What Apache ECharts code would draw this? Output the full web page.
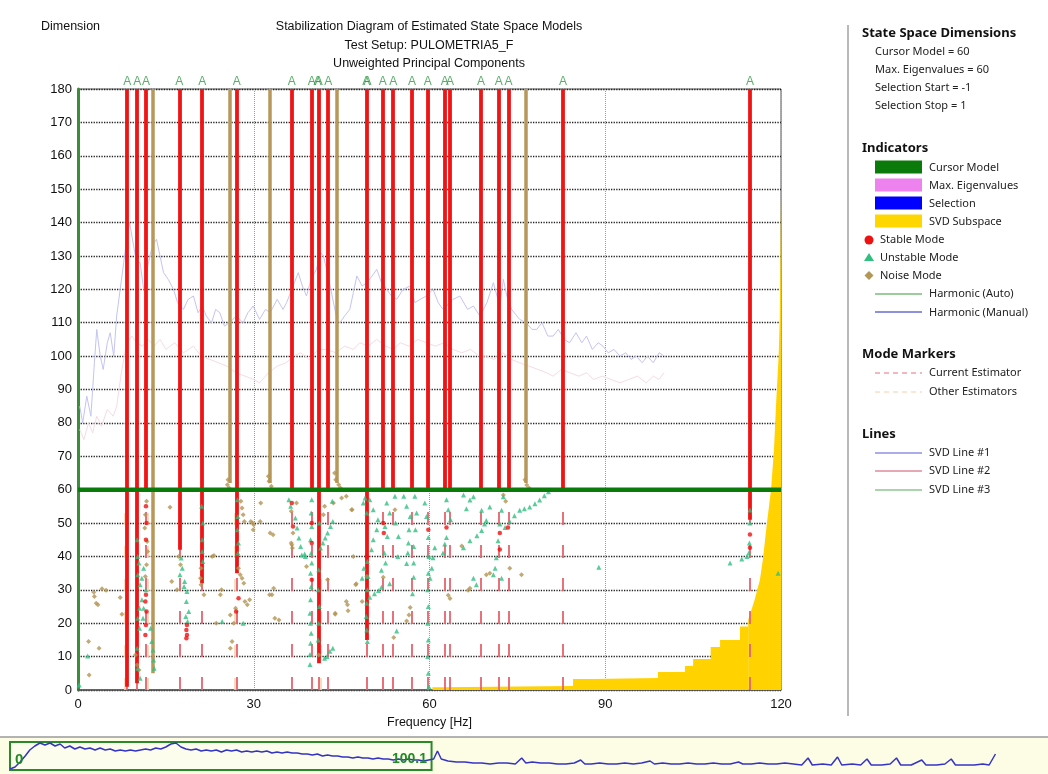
<!DOCTYPE html>
<html>
<head>
<meta charset="utf-8">
<title>Stabilization Diagram</title>
<script src="https://cdn.jsdelivr.net/npm/echarts@6/dist/echarts.min.js"></script>
<style>
html, body { margin: 0; padding: 0; background: #fff; }
#chart { width: 1048px; height: 774px; }
</style>
</head>
<body>
<div id="chart"></div>
<script>
var myChart = echarts.init(document.getElementById('chart'));

// 稳定极点列 [频率Hz, 起始阶数] -> 一直到 180
let stableModes = [[8.4, 1], [10.1, 2], [11.6, 60], [17.3, 42], [21.2, 32], [27.1, 35], [36.5, 60], [39.9, 60],
    [41.1, 8], [42.7, 60], [49.3, 15], [52.0, 60], [53.8, 60], [57.0, 60], [59.7, 60], [62.6, 60], [63.5, 60],
    [68.8, 60], [71.8, 60], [73.5, 60], [82.8, 60], [114.7, 51]]
// 噪声列
let noiseModes = [[12.8, 5], [25.9, 62], [32.8, 62], [44.2, 62], [76.5, 62]]
// "A" 标记
let autoMarks = [8.4, 10.1, 11.6, 17.3, 21.2, 27.1, 36.5, 39.9, 40.9, 41.1, 42.7, 49.2, 49.4, 52.0, 53.8, 57.0,
    59.7, 62.6, 63.5, 68.8, 71.8, 73.5, 82.8, 114.7]
// 虚线 mode markers
let currentEstimator = [8.4, 10.1, 11.6, 17.3, 21.2, 27.1, 36.5, 39.9, 41.1, 42.7, 49.3, 52.0, 53.8, 57.0, 59.7,
    62.6, 63.5, 68.8, 71.8, 73.5, 82.8, 114.7]
let otherEstimators = [8.1, 11.8, 26.8, 41.3]
let cursorModel = 60

// 散点
let stablePts = [[11.6, 28.5], [11.5, 26.5], [11.7, 23.5], [11.6, 19.5], [11.5, 16.5], [11.7, 50], [11.6, 45],
    [11.6, 55], [18.6, 19.5], [18.5, 18], [18.6, 16.5], [18.5, 15.5], [27.4, 27.5], [27, 23.5], [36.7, 49], [36.5, 56],
    [39.9, 50], [39.9, 44], [39.9, 33], [52.1, 50], [52.2, 47], [62.9, 48.7], [72, 42.1], [72, 47], [73.4, 48.7],
    [114.7, 46.6], [114.7, 42.6], [49.3, 40], [59.8, 48]]

let unstablePts = [[1.65, 10.2], [0.2, 1.5],
    [10.2, 34.5], [10.6, 31.5], [10.9, 27], [10.5, 24.5], [10.2, 21.5], [10.5, 18.5], [10.1, 12.5], [10.2, 6.5],
    [10.6, 3.5], [11.2, 36.5], [10.9, 33.5], [11.2, 24.5], [11.1, 21.5], [12.4, 18.5], [12.6, 14.5], [12.8, 12],
    [13, 6.5], [12.9, 9], [10.1, 45], [10.2, 40], [10.4, 38], [11.6, 30],
    [17.6, 39.5], [17.8, 36.5], [17.4, 34.5], [18.2, 32.5], [18.6, 29.5], [18.5, 26.5], [18.9, 23.5], [18.7, 20.5],
    [18.4, 22], [18.1, 31],
    [21.2, 41.5], [21.3, 38.5], [21.2, 45], [21.3, 50], [21.1, 55], [24.6, 20.5],
    [27.2, 57], [27.3, 52], [27.2, 48], [27.4, 44], [27.3, 41], [28.2, 20],
    [36, 57], [36.3, 55], [37.1, 51.5], [37.4, 48.5], [37.7, 45.5], [38, 43], [38.2, 40.4], [38.7, 40.7], [38.8, 40],
    [39.9, 57], [39.8, 53], [39.9, 49], [39.7, 45], [39.8, 41], [39.9, 38], [39.7, 35], [39.8, 31], [39.7, 27],
    [39.6, 23], [39.7, 20], [39.8, 17], [39.7, 14], [39.6, 10.6], [39.6, 7.6],
    [41.2, 50], [41.1, 36], [41.0, 30], [41.2, 25], [41.1, 20], [41.0, 15],
    [41.4, 42.5], [41.8, 44], [42.2, 45.5], [42.6, 47], [43.1, 49], [43.5, 50.5], [43.4, 56.5], [42.1, 9.5],
    [42.5, 10], [43.5, 12.5], [43, 11.6],
    [49, 57.5], [49.3, 53], [49.4, 38.5], [49.5, 34], [49.4, 30], [49.3, 26], [49.2, 22], [49.3, 18], [49.4, 14.5],
    [48.8, 36.5], [48.5, 33.5], [48.7, 56], [49.8, 57], [50.4, 54], [51.2, 51], [51, 48], [50.4, 45], [50.1, 42],
    [51.8, 30.8], [51.3, 29.8], [50.6, 28.8], [49.8, 27.8],
    [52.7, 56], [53.2, 53], [52.4, 49], [52.8, 46], [52.3, 41], [51.8, 35.9], [52.5, 38], [53.2, 31.8], [54.1, 58],
    [54.7, 46], [54.2, 50], [54.4, 17.7], [54.6, 40],
    [55.6, 58], [56.1, 55], [56.7, 52], [56.5, 48], [56.4, 44], [56.1, 37.9], [56.3, 41], [57.5, 58], [57.8, 53],
    [57.6, 48], [57.3, 43], [57.3, 38], [57.3, 33.8], [57.1, 28.8],
    [59.2, 56], [59.5, 52], [59.8, 45.7], [59.9, 40], [59.8, 35], [59.7, 30], [59.8, 25], [59.7, 20], [59.8, 15],
    [59.7, 10], [59.8, 5], [59.9, 1], [60.9, 42.6], [60.6, 39.6], [60.4, 36.5], [60.1, 33.5],
    [62.9, 57], [63.2, 54], [63.6, 51], [62.9, 45.7], [62.6, 43.7], [62.3, 41],
    [65.8, 58.4], [66.9, 56.9], [67.5, 57.9], [66.3, 54.3], [69.7, 50.8], [68.9, 47.8], [68.1, 46.2], [66.9, 44.7],
    [65.8, 42.6], [68.9, 53.8], [70.3, 54.8], [69.4, 49.7], [67.5, 33.5], [68, 31.5],
    [72.6, 57.9], [72.3, 53.8], [72, 49.7], [71.7, 44.7], [71.4, 39.6], [71.2, 36.5], [70.9, 34.5], [72.3, 33.5],
    [72.9, 48.7], [73.7, 50.5], [74.5, 52.2], [75.4, 53.8], [76.2, 54.3], [77.1, 54.8], [78, 55.8], [78.8, 56.9],
    [79.6, 58.2], [80.3, 59.4],
    [88.9, 36.8], [111.3, 38], [113.3, 39.2], [119.5, 35], [114.7, 53.9], [114.7, 50], [114.6, 44], [114.5, 41],
    [114.2, 40]]

let noisePts = [[2.7, 29.3], [2.8, 28], [3.1, 26], [3.4, 25.5], [4.1, 30.3], [4.8, 29.9], [7.2, 27.7], [7.5, 22.7],
    [1.8, 14.5], [3.6, 12.5], [1.9, 4.5], [9.8, 10.5], [10.1, 7.5], [10.4, 6],
    [11.7, 56.5], [11.5, 52.5], [11.4, 48.5], [11.8, 44.5], [11.9, 41.5], [11.7, 37.5], [11.5, 34],
    [15.7, 54.7], [16, 32.5], [16.9, 30], [17.2, 40], [17.5, 37.5],
    [21, 36.5], [20.9, 33.5], [21, 31.5], [21.5, 28.5], [22.9, 40], [23.2, 40.3], [24.3, 28.5], [24.5, 30], [23.6, 20],
    [25.6, 63], [25.5, 61.5], [25.8, 60.5],
    [26.3, 14.5], [26, 12.5], [26.6, 20], [26, 22.5], [26.9, 24.5], [27.4, 36.5], [27.7, 34.5], [28, 33.5], [28.3, 32],
    [28.5, 26.5], [28.9, 25.5], [29.3, 27],
    [28, 54.5], [28.2, 52.5], [28.4, 50.5], [27.8, 56.5], [29.5, 50.5], [30, 49.5], [29.9, 48], [31.1, 50.5], [31.2, 56],
    [32.8, 47], [33.3, 46.5], [29.8, 50],
    [32.7, 28.5], [33.1, 28.5], [33.4, 30.5], [33.6, 21.5], [34.3, 21], [32.5, 64], [32.6, 62.5], [33, 61],
    [36.4, 53.5], [36.5, 43.5], [36.6, 42.5], [36.4, 44], [36.7, 47], [37.3, 56],
    [39, 37], [41.9, 52.5], [42.1, 55], [43.6, 56], [45.8, 58], [46.7, 54], [45, 57.5], [46.8, 54], [47, 40],
    [41.1, 10.5], [42.6, 33], [43.9, 23], [45.8, 26.5], [46, 25.5], [46.1, 23.7], [43.9, 22.7],
    [43.8, 65], [44.0, 63], [44.5, 61.5], [44.8, 60.5],
    [47.5, 31.8], [47.4, 31.5], [48.5, 26.5], [49.3, 34],
    [52.1, 33.8], [54.1, 54], [53.9, 15.7], [56.7, 24.7], [56.1, 20.7], [56.5, 22.5],
    [63.2, 28.4], [63.5, 27.4], [65.5, 43.1], [69.7, 34.5], [70.3, 35], [66.9, 30.5], [66.6, 29.9], [73.7, 36.5],
    [75.7, 34.5], [72.6, 58.4], [73, 56.5], [76.6, 61.4], [76.3, 63], [77, 60.5]]

// SVD 子空间: 阶梯部分 + 右侧陡升部分
let svdSteps = [[59.7, 0], [60.5, 0.8], [62, 1.2], [84.5, 3.3], [88, 3.6], [99, 5.4], [103.6, 7.2], [105, 9.3],
    [108, 12.9], [109.6, 15], [113, 19], [114.4, 21]]
let svdRise = [[114.4, 21], [115.5, 27], [116.4, 33], [116.9, 39], [117.6, 50], [118.3, 60],
    [118.8, 72], [119.2, 87], [119.6, 100], [119.8, 112], [120, 148]]

// 浅色 SVD lines
let svdLine1 = [[0.3, 85], [0.8, 80], [1.5, 88], [2.2, 82], [2.8, 98], [3.2, 108], [3.8, 100], [4.3, 96], [5, 104],
    [5.5, 107], [6.1, 100], [6.6, 112], [7.2, 120], [7.8, 128], [8.3, 135], [8.8, 140], [9.5, 133], [10, 128],
    [10.6, 128], [11.2, 120], [11.8, 126], [12.4, 131], [13, 134], [13.4, 135], [14, 130], [14.6, 125], [15.4, 123],
    [16.3, 120], [17, 116], [18, 114], [18.8, 117], [19.7, 118], [20.5, 113], [21.2, 115], [21.9, 112], [22.8, 110],
    [23.5, 114], [24.2, 113], [25, 109], [25.9, 110], [27, 112], [28.2, 110], [29, 113], [29.9, 115], [31, 111],
    [32, 114], [32.8, 113], [34, 117], [35, 114], [35.6, 116], [36.5, 120], [37.6, 125], [38.3, 121], [39, 118],
    [39.8, 123], [40.7, 126], [41.4, 131], [41.9, 130], [42.7, 124], [43.5, 117], [44.2, 111], [44.7, 110],
    [45.5, 112], [46.4, 114], [47, 119], [47.6, 124], [48.5, 121], [49.3, 122], [50.2, 124], [51, 126], [51.8, 122],
    [52.7, 120], [53.5, 118], [54.4, 117], [55.5, 120], [56.7, 121], [57.5, 116], [58.4, 117], [59.5, 118],
    [60.6, 120], [61.5, 116], [62.3, 114], [62.9, 115], [64, 117], [65.2, 118], [66.5, 114], [67.5, 115], [68.6, 112],
    [69.8, 116], [70.9, 122], [72, 115], [72.6, 123], [73.2, 118], [74, 114], [75.4, 111], [76.5, 110], [77.5, 108],
    [78.3, 108], [79.2, 110], [80.2, 106], [81.1, 106], [82, 108], [83, 105], [83.9, 104], [85, 107], [86, 104],
    [86.8, 106], [87.8, 102], [88.8, 104], [89.6, 103], [90.5, 101], [91.5, 102], [92.5, 100], [93.5, 101],
    [94.4, 99], [95.3, 100], [96.3, 98], [97.2, 100], [98.2, 98], [99.2, 101], [100.1, 100]]
let svdLine2 = [[0.3, 78], [1, 75], [1.8, 80], [2.5, 77], [3.2, 82], [4, 79], [5, 84], [6, 82], [6.6, 85], [7.4, 95],
    [8.3, 104], [9.2, 106], [10, 104], [11, 103], [12, 105], [13, 103], [14, 105], [15, 102], [16.5, 104], [18, 101],
    [19.7, 103], [21, 100], [22.5, 99], [24, 98], [25.4, 97], [27, 95], [28.5, 94], [30, 93], [31, 92], [32.5, 95],
    [34, 97], [35.5, 98], [36.8, 100], [38, 101], [39.5, 99], [41, 102], [42.4, 102], [44, 101], [45.5, 103],
    [47, 102], [48.1, 104], [49.5, 103], [51, 105], [52.5, 103], [53.8, 102], [55, 104], [56.5, 103], [58, 105],
    [59.5, 104], [61, 103], [62.5, 104], [64, 102], [65.5, 101], [67, 102], [68.5, 100], [69.7, 100], [71, 99],
    [72.5, 101], [74, 99], [75.4, 98], [77, 97], [78.5, 96], [80, 95], [81.1, 94], [82.5, 96], [84, 95], [85.5, 94],
    [86.8, 95], [88, 93], [89.5, 94], [91, 93], [92.5, 92], [94, 93], [95.5, 94], [97, 92], [98.2, 94], [99.2, 93],
    [100, 95]]

// 底部频谱条
let cursorRange = [0, 100.1]
let spectrum = [[0, 1], [1.2, 3], [2.4, 8], [3.6, 14], [4.7, 20], [5.9, 24], [7.1, 27], [8.3, 25], [9.5, 27],
    [10.7, 24], [11.9, 26], [13, 22], [14.2, 24], [15.4, 21], [16.6, 23], [17.8, 21], [19, 22], [20.2, 20], [21.4, 22],
    [22.6, 20], [23.8, 21], [25, 19], [26.2, 20], [27.4, 19], [28.6, 20], [29.8, 19], [31, 20], [32.2, 21], [33.4, 20],
    [34.6, 22], [35.8, 21], [37, 23], [38.2, 26], [39.4, 27], [40.6, 23], [41.8, 21], [43, 20], [44.2, 21], [45.4, 19],
    [46.6, 20], [47.8, 19], [49, 20], [50.2, 18], [51.4, 20], [52.6, 19], [53.8, 20], [55, 18], [56.2, 19], [57.4, 18],
    [58.6, 19], [59.8, 18], [61, 19], [62.2, 17], [63.4, 18], [64.6, 17], [65.8, 18], [67, 17], [68.2, 17], [69.4, 16],
    [70.6, 16], [71.8, 15], [73, 16], [74.2, 14], [75.4, 15], [76.6, 14], [77.8, 14], [79, 13], [80.2, 13], [81.4, 12],
    [82.6, 13], [83.8, 12], [85, 12], [86.2, 11], [87.4, 12], [88.6, 11], [89.8, 11], [91, 10], [92.2, 11], [93.4, 10],
    [94.6, 11], [95.8, 10], [97, 10], [98.2, 9], [99.4, 10], [100.6, 11], [101.5, 19], [102.4, 11], [104, 9], [106, 8],
    [108, 8], [110, 7], [112, 7], [114, 6], [116, 7], [118, 7], [120, 6], [121.5, 12], [122.5, 7], [124, 8], [126, 7],
    [128, 7], [130, 6], [132, 6], [134, 7], [135.5, 10], [136.5, 6], [138, 6], [140, 7], [142, 6], [144, 6], [146, 7],
    [148, 6], [150, 7], [152, 9], [153, 6], [155, 7], [157, 6], [159, 6], [161, 7], [163, 6], [165, 6], [167, 7],
    [169, 6], [171, 6], [173, 8], [174, 6], [176, 6], [178, 7], [180, 6], [182, 6], [184, 7], [186, 6], [188, 5],
    [189.5, 12], [190.5, 5], [193, 6], [195, 5], [196.5, 13], [197.5, 5], [200, 6], [202, 5], [203.5, 11], [204.5, 5],
    [207, 5], [209, 6], [210.5, 12], [211.5, 5], [214, 5], [216.5, 10], [217.5, 5], [220, 5], [222, 6], [223.5, 11],
    [224.5, 5], [227, 5], [229, 5], [231, 6], [232.5, 5], [234, 16]]

// 右侧图例文字
let dimText = ['Cursor Model = 60', 'Max. Eigenvalues = 60', 'Selection Start = -1', 'Selection Stop = 1']

var font = 'Liberation Sans, Arial, sans-serif'
var lgFont = 'Noto Sans, Open Sans, sans-serif'

function txt(x, y, s, o) {
    o = o || {}
    return {
        type: 'text', x: x, y: y, z: 100, silent: true,
        style: {
            text: s, fill: o.color || '#222', font: (o.weight || 'normal') + ' ' + (o.size || 11) + 'px ' + (o.family || lgFont),
            textAlign: o.align || 'left', textVerticalAlign: 'middle'
        }
    }
}
function swatch(y, color) {
    return { type: 'rect', shape: { x: 875, y: y - 6.5, width: 47, height: 13 }, style: { fill: color }, silent: true }
}
function hline(y, color, dash) {
    return { type: 'line', shape: { x1: 875, y1: y, x2: 922, y2: y }, style: { stroke: color, lineWidth: 1.2, lineDash: dash || null }, silent: true }
}

var graphics = [
    // 底部条背景
    { type: 'rect', z: -10, shape: { x: 0, y: 737, width: 1048, height: 37 }, style: { fill: '#fdfde6' }, silent: true },
    { type: 'line', shape: { x1: 0, y1: 737, x2: 1048, y2: 737 }, style: { stroke: '#9a9a9a', lineWidth: 1.5 }, silent: true },
    // 右侧分隔线
    { type: 'line', shape: { x1: 848, y1: 25, x2: 848, y2: 716 }, style: { stroke: '#8a8a8a', lineWidth: 1.2 }, silent: true },
    // 标题
    txt(41, 27, 'Dimension', { family: font, size: 12.5, color: '#111' }),
    txt(429, 27, 'Stabilization Diagram of Estimated State Space Models', { family: font, size: 12.5, color: '#111', align: 'center' }),
    txt(429, 46, 'Test Setup: PULOMETRIA5_F', { family: font, size: 12.5, color: '#111', align: 'center' }),
    txt(429, 64, 'Unweighted Principal Components', { family: font, size: 12.5, color: '#111', align: 'center' }),
    // 底部条标签
    txt(15, 760, '0', { family: font, size: 15, weight: 'bold', color: '#238a23' }),
    txt(427, 759, '100.1', { family: font, size: 14, weight: 'bold', color: '#238a23', align: 'right' }),
    // 图例
    txt(862, 33, 'State Space Dimensions', { size: 13, weight: 'bold', color: '#111' }),
    txt(875, 52, dimText[0]), txt(875, 70, dimText[1]), txt(875, 88, dimText[2]), txt(875, 106, dimText[3]),
    txt(862, 148, 'Indicators', { size: 13, weight: 'bold', color: '#111' }),
    swatch(167, '#0a7a0a'), txt(929, 168, 'Cursor Model'),
    swatch(185, '#ee82ee'), txt(929, 186, 'Max. Eigenvalues'),
    swatch(203, '#0000ff'), txt(929, 204, 'Selection'),
    swatch(221, '#ffd700'), txt(929, 222, 'SVD Subspace'),
    { type: 'circle', shape: { cx: 869, cy: 240, r: 4.5 }, style: { fill: '#ee1111' }, silent: true },
    txt(880, 240, 'Stable Mode'),
    { type: 'polygon', shape: { points: [[869, 253], [874, 261], [864, 261]] }, style: { fill: '#2fbf7f' }, silent: true },
    txt(880, 258, 'Unstable Mode'),
    { type: 'polygon', shape: { points: [[869, 271], [873.5, 275.5], [869, 280], [864.5, 275.5]] }, style: { fill: '#b39554' }, silent: true },
    txt(880, 276, 'Noise Mode'),
    hline(294, '#3a9a3a'), txt(929, 294, 'Harmonic (Auto)'),
    hline(312, '#2020c0'), txt(929, 313, 'Harmonic (Manual)'),
    txt(862, 354, 'Mode Markers', { size: 13, weight: 'bold', color: '#111' }),
    hline(373, '#e87080', [5, 4]), txt(929, 373, 'Current Estimator'),
    hline(392, '#f6d2b0', [5, 4]), txt(929, 392, 'Other Estimators'),
    txt(862, 434, 'Lines', { size: 13, weight: 'bold', color: '#111' }),
    hline(453, '#5a5ad8'), txt(929, 453, 'SVD Line #1'),
    hline(471, '#d0506a'), txt(929, 471, 'SVD Line #2'),
    hline(490, '#5aaa5a'), txt(929, 490, 'SVD Line #3')
]

option = {
    animation: false,
    backgroundColor: '#fff',
    graphic: graphics,
    grid: [
        { left: 78, top: 89, width: 703, height: 601, show: true, borderColor: '#555', borderWidth: 1, backgroundColor: 'transparent' },
        { left: 10, top: 742, width: 1036, height: 28 }
    ],
    xAxis: [
        {
            type: 'value', gridIndex: 0, min: 0, max: 120, interval: 30,
            name: 'Frequency [Hz]', nameLocation: 'middle', nameGap: 21,
            nameTextStyle: { color: '#111', fontSize: 12.5, fontFamily: font },
            axisLine: { lineStyle: { color: '#555', width: 1.5 } },
            axisTick: { show: false },
            axisLabel: { color: '#111', fontSize: 13, fontFamily: font, margin: 8 },
            splitLine: { show: true, lineStyle: { color: '#9a9a9a', type: 'dotted', width: 1 } }
        },
        { type: 'value', gridIndex: 1, min: 0, max: 246, show: false }
    ],
    yAxis: [
        {
            type: 'value', gridIndex: 0, min: 0, max: 180, interval: 10,
            axisLine: { show: true, lineStyle: { color: '#3c8c3c', width: 3 } },
            axisTick: { show: false },
            axisLabel: { color: '#111', fontSize: 13, fontFamily: font, margin: 6 },
            splitLine: { show: true, lineStyle: { color: '#222', type: 'dotted', width: 1.3 } }
        },
        { type: 'value', gridIndex: 1, min: 0, max: 28, show: false }
    ],
    series: [
        {
            // SVD subspace 黄色阶梯
            name: 'SVD Subspace', type: 'line', step: 'end', data: svdSteps, symbol: 'none', z: 1,
            lineStyle: { width: 0 }, areaStyle: { color: '#ffd200', opacity: 1 }
        },
        {
            name: 'SVD Subspace Rise', type: 'line', data: svdRise, symbol: 'none', z: 1,
            lineStyle: { width: 0 }, areaStyle: { color: '#ffd200', opacity: 1 }
        },
        {
            name: 'SVD Line #1', type: 'line', data: svdLine1, symbol: 'none', z: 1,
            lineStyle: { color: '#c4c4f2', width: 1 }
        },
        {
            name: 'SVD Line #2', type: 'line', data: svdLine2, symbol: 'none', z: 1,
            lineStyle: { color: '#f5dce4', width: 1 }
        },
        {
            name: 'Other Estimators', type: 'lines', coordinateSystem: 'cartesian2d', z: 2, silent: true,
            data: otherEstimators.map(function (f) { return { coords: [[f, 0], [f, 60]] } }),
            lineStyle: { color: '#f8d4b0', width: 3, type: [12, 21], opacity: 0.8 }
        },
        {
            name: 'Current Estimator', type: 'lines', coordinateSystem: 'cartesian2d', z: 2, silent: true,
            data: currentEstimator.map(function (f) { return { coords: [[f, 0], [f, 180]] } }),
            lineStyle: { color: '#e8606e', width: 2, type: [13, 20], opacity: 0.9 }
        },
        {
            name: 'Noise Columns', type: 'lines', coordinateSystem: 'cartesian2d', z: 3, silent: true,
            data: noiseModes.map(function (m) { return { coords: [[m[0], m[1]], [m[0], 180]] } }),
            lineStyle: { color: '#b8975a', width: 3.5, opacity: 1 }
        },
        {
            name: 'Stable Columns', type: 'lines', coordinateSystem: 'cartesian2d', z: 3, silent: true,
            data: stableModes.map(function (m) { return { coords: [[m[0], m[1]], [m[0], 180]] } }),
            lineStyle: { color: '#f01414', width: 3.8, opacity: 1 }
        },
        {
            name: 'Noise Mode', type: 'scatter', data: noisePts, symbol: 'diamond', symbolSize: 5, z: 4,
            itemStyle: { color: '#b39554' }
        },
        {
            name: 'Unstable Mode', type: 'scatter', data: unstablePts, symbol: 'triangle', symbolSize: 5, z: 4,
            itemStyle: { color: '#2fbf7f' }
        },
        {
            name: 'Stable Mode', type: 'scatter', data: stablePts, symbol: 'circle', symbolSize: 4.5, z: 4,
            itemStyle: { color: '#ee1111' }
        },
        {
            // Cursor model 绿线
            name: 'Cursor Model', type: 'line', data: [[0, cursorModel], [120, cursorModel]], symbol: 'none', z: 5,
            lineStyle: { color: '#0a7a0a', width: 4.5 }
        },
        {
            name: 'Auto', type: 'scatter', data: autoMarks.map(function (f) { return [f, 180] }),
            symbolSize: 1, z: 6, itemStyle: { color: 'transparent' },
            label: { show: true, position: 'top', distance: 1, formatter: 'A', color: '#2f9a44', fontSize: 12, fontFamily: font }
        },
        {
            name: 'Spectrum', type: 'line', xAxisIndex: 1, yAxisIndex: 1, data: spectrum, symbol: 'none', z: 3,
            lineStyle: { color: '#3434c4', width: 1.5 },
            markArea: {
                silent: true,
                itemStyle: { color: 'rgba(255,255,255,0.3)', borderColor: '#2a8a2a', borderWidth: 2 },
                data: [[{ xAxis: cursorRange[0] }, { xAxis: cursorRange[1] }]]
            }
        }
    ]
};

// 使用刚指定的配置项和数据显示图表。
myChart.setOption(option);
</script>
</body>
</html>
